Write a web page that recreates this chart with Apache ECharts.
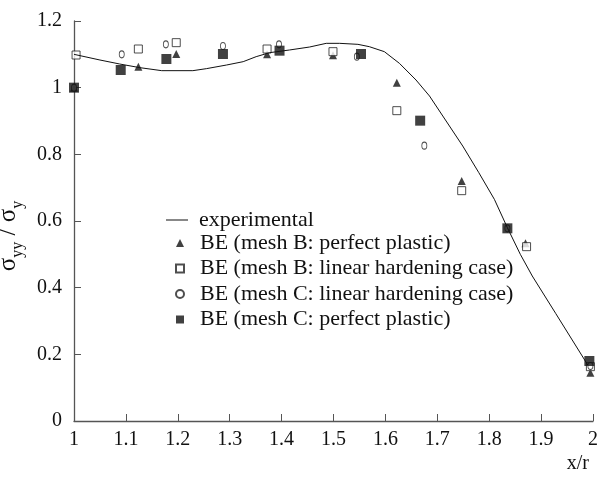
<!DOCTYPE html>
<html>
<head>
<meta charset="utf-8">
<script src="https://cdn.jsdelivr.net/npm/echarts@6/dist/echarts.min.js"></script>
<style>
  html, body { margin: 0; padding: 0; background: #fff; }
  #main { width: 601px; height: 493px; }
</style>
</head>
<body>
<div id="main"></div>
<script>
// experimental curve
var expX = [1.0, 1.05, 1.088, 1.127, 1.169, 1.229, 1.255, 1.294, 1.326, 1.351, 1.377, 1.415, 1.454, 1.486, 1.512, 1.547, 1.569, 1.598, 1.627, 1.659, 1.685, 1.717, 1.749, 1.78, 1.81, 1.835, 1.86, 1.883, 1.928, 1.96, 1.99];
var expY = [1.10, 1.083, 1.071, 1.06, 1.051, 1.051, 1.057, 1.068, 1.078, 1.093, 1.105, 1.113, 1.122, 1.133, 1.133, 1.130, 1.123, 1.108, 1.073, 1.023, 0.975, 0.90, 0.825, 0.745, 0.665, 0.58, 0.50, 0.435, 0.323, 0.243, 0.168];

// BE mesh B, perfect plastic (triangles)
var bPerfX = [1.0, 1.124, 1.197, 1.372, 1.499, 1.622, 1.747, 1.870, 1.995];
var bPerfY = [1.0, 1.063, 1.101, 1.10, 1.097, 1.015, 0.72, 0.533, 0.145];
// BE mesh B, linear hardening (open squares)
var bLinX = [1.004, 1.124, 1.197, 1.372, 1.499, 1.622, 1.747, 1.872, 1.995];
var bLinY = [1.098, 1.116, 1.135, 1.116, 1.108, 0.931, 0.691, 0.523, 0.163];
// BE mesh C, linear hardening (open circles)
var cLinX = [1.0, 1.092, 1.177, 1.287, 1.395, 1.545, 1.675, 1.835, 1.995];
var cLinY = [1.0, 1.100, 1.130, 1.125, 1.130, 1.093, 0.826, 0.578, 0.165];
// BE mesh C, perfect plastic (filled squares)
var cPerfX = [1.0, 1.090, 1.178, 1.287, 1.396, 1.553, 1.667, 1.835, 1.993];
var cPerfY = [1.0, 1.053, 1.086, 1.101, 1.111, 1.101, 0.901, 0.578, 0.18];

var names = [
    'experimental',
    'BE (mesh B: perfect plastic)',
    'BE (mesh B: linear hardening case)',
    'BE (mesh C: linear hardening case)',
    'BE (mesh C: perfect plastic)'
];

function pairs(xs, ys) {
    return xs.map(function (x, i) { return [x, ys[i]]; });
}

var font = 'Liberation Serif';
var axisColor = '#555';
var txt = { fontFamily: font, fontSize: 20, color: '#111' };
var legendTxt = { fontFamily: font, fontSize: 22, color: '#111' };

var myChart = echarts.init(document.getElementById('main'));
var option = {
    backgroundColor: '#fff',
    animation: false,
    textStyle: { fontFamily: font, color: '#111' },
    grid: { left: 74, right: 8, top: 21, bottom: 72, outerBoundsMode: 'none' },
    legend: [
        {
            // line entry
            orient: 'vertical',
            left: 166,
            top: 209,
            padding: 0,
            itemWidth: 22,
            itemHeight: 1,
            data: [{ name: names[0], icon: 'rect' }],
            textStyle: Object.assign({ padding: [0, 0, 0, 6] }, legendTxt)
        },
        {
            // marker entries
            orient: 'vertical',
            left: 175,
            top: 232,
            padding: 0,
            itemWidth: 8,
            itemHeight: 8,
            itemGap: 3.5,
            data: names.slice(1),
            textStyle: Object.assign({ padding: [0, 0, 0, 11] }, legendTxt)
        }
    ],
    xAxis: {
        type: 'value',
        min: 1,
        max: 2,
        interval: 0.1,
        name: 'x/r',
        nameLocation: 'end',
        nameGap: -4,
        nameTextStyle: Object.assign({ align: 'right', verticalAlign: 'top', padding: [33, 0, 0, 0] }, txt),
        axisLine: { lineStyle: { color: axisColor, width: 1.3 } },
        axisTick: { inside: true, length: 7, lineStyle: { color: axisColor } },
        axisLabel: Object.assign({ margin: 9, formatter: function (v) { return +v.toFixed(1) + ''; } }, txt),
        splitLine: { show: false }
    },
    yAxis: {
        type: 'value',
        min: 0,
        max: 1.2,
        interval: 0.2,
        name: '{s|σ}{sub|yy}{s| / σ}{sub|y}',
        nameLocation: 'middle',
        nameGap: 30,
        nameRotate: 90,
        nameTextStyle: {
            fontFamily: font,
            color: '#111',
            padding: [0, 30, 0, 0],
            rich: {
                s: { fontFamily: font, fontSize: 25, color: '#111', lineHeight: 28, verticalAlign: 'bottom' },
                sub: { fontFamily: font, fontSize: 16, color: '#111', lineHeight: 22, verticalAlign: 'bottom', padding: [0, 0, -5, 0] }
            }
        },
        axisLine: { show: true, lineStyle: { color: axisColor, width: 1.3 } },
        axisTick: { show: true, inside: true, length: 7, lineStyle: { color: axisColor } },
        axisLabel: Object.assign({ margin: 12, formatter: function (v) { return +v.toFixed(1) + ''; } }, txt),
        splitLine: { show: false }
    },
    series: [
        {
            name: names[0],
            type: 'line',
            symbol: 'none',
            lineStyle: { color: '#111', width: 1 },
            itemStyle: { color: '#111' },
            data: pairs(expX, expY)
        },
        {
            name: names[1],
            type: 'scatter',
            symbol: 'triangle',
            symbolSize: [8, 8],
            itemStyle: { color: '#111' },
            data: pairs(bPerfX, bPerfY)
        },
        {
            name: names[2],
            type: 'scatter',
            symbol: 'rect',
            symbolSize: 8,
            itemStyle: { color: '#fff', borderColor: '#222', borderWidth: 1 },
            data: pairs(bLinX, bLinY)
        },
        {
            name: names[3],
            type: 'scatter',
            symbol: 'circle',
            symbolSize: [5, 7],
            itemStyle: { color: '#fff', borderColor: '#222', borderWidth: 1 },
            data: pairs(cLinX, cLinY)
        },
        {
            name: names[4],
            type: 'scatter',
            symbol: 'rect',
            symbolSize: 10,
            itemStyle: { color: '#111' },
            data: pairs(cPerfX, cPerfY)
        }
    ]
};
myChart.setOption(option);
</script>
</body>
</html>
